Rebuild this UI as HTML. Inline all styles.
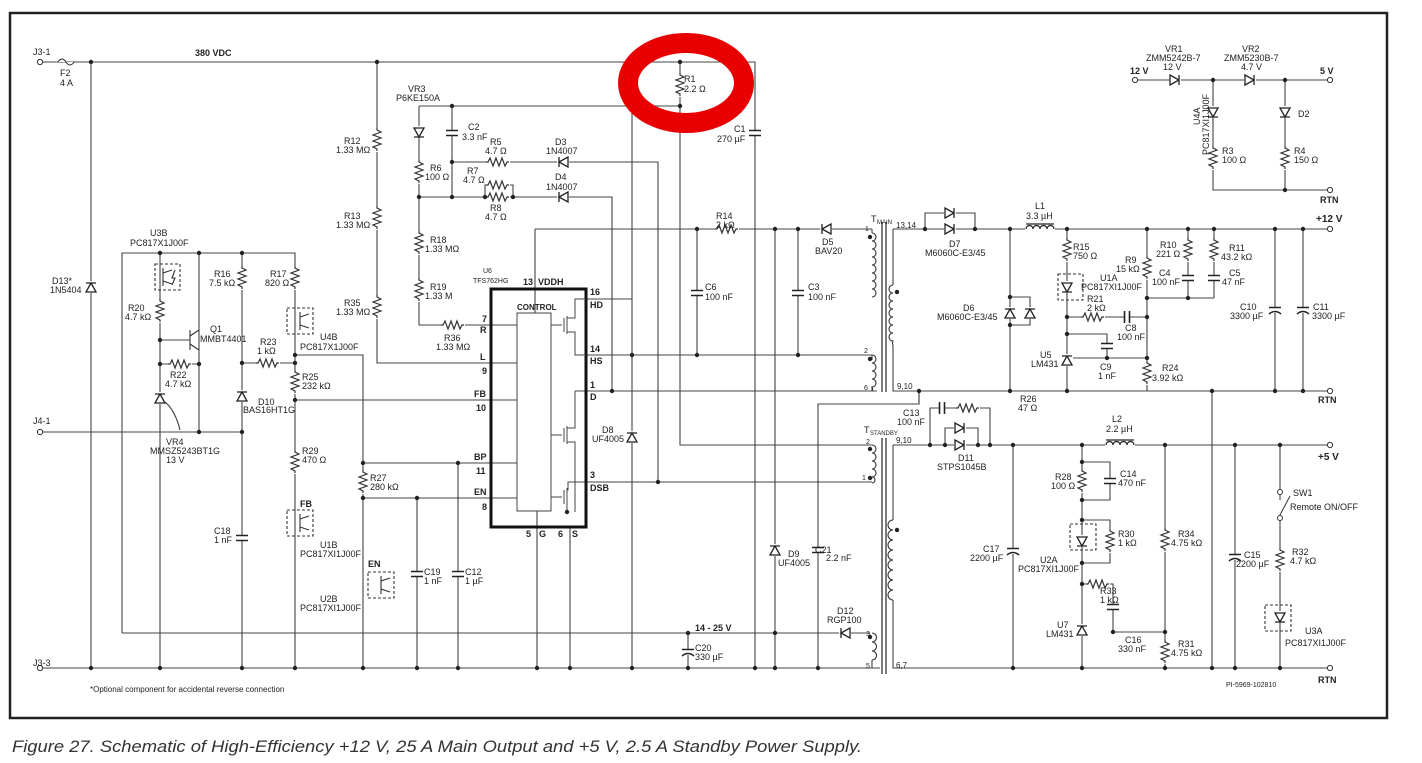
<!DOCTYPE html>
<html><head><meta charset="utf-8"><style>
html,body{margin:0;padding:0;background:#fff;width:1422px;height:763px;overflow:hidden}
svg{display:block}
text{font-family:"Liberation Sans",sans-serif;font-size:9px;fill:#222}
.b{font-weight:bold}
</style></head><body>
<svg width="1422" height="763" viewBox="0 0 1422 763" xmlns="http://www.w3.org/2000/svg">
<defs>
<g id="rv"><rect x="-5" y="-12" width="10" height="24" fill="#fff"/><path d="M0,-12 v2 l4,2 -8,3 8,3 -8,3 8,3 -8,3 4,2 v2" fill="none" stroke="#333" stroke-width="1.2"/></g>
<g id="rh"><rect x="-12" y="-5" width="24" height="10" fill="#fff"/><path d="M-12,0 h2 l2,-4 3,8 3,-8 3,8 3,-8 3,8 2,-4 h2" fill="none" stroke="#333" stroke-width="1.2"/></g>
<g id="cv"><rect x="-7" y="-3" width="14" height="6" fill="#fff"/><path d="M-6,-2.5h12M-6,2.5h12" stroke="#222" stroke-width="1.6"/></g>
<g id="ch"><rect x="-3" y="-7" width="6" height="14" fill="#fff"/><path d="M-2.5,-6v12M2.5,-6v12" stroke="#222" stroke-width="1.6"/></g>
<g id="cpv"><rect x="-7" y="-3" width="14" height="6" fill="#fff"/><path d="M-6,-2.5h12M-6,4 q6,-5 12,0" fill="none" stroke="#222" stroke-width="1.5"/></g>
<g id="du"><rect x="-6" y="-6" width="12" height="12" fill="#fff"/><path d="M-5,5 H5 L0,-4 Z M-5,-4 H5" fill="none" stroke="#222" stroke-width="1.3"/></g>
<g id="dl"><rect x="-6" y="-6" width="12" height="12" fill="#fff"/><path d="M5,-5 V5 L-4,0 Z M-4,-5 V5" fill="none" stroke="#222" stroke-width="1.3"/></g>
<g id="dr"><rect x="-6" y="-6" width="12" height="12" fill="#fff"/><path d="M-5,-5 V5 L4,0 Z M4,-5 V5" fill="none" stroke="#222" stroke-width="1.3"/></g>
<g id="dd"><rect x="-6" y="-6" width="12" height="12" fill="#fff"/><path d="M-5,-4 H5 L0,5 Z M-5,5 H5" fill="none" stroke="#222" stroke-width="1.3"/></g>
<g id="lh"><rect x="-15" y="-5" width="30" height="6" fill="#fff"/><path d="M-14,0 a3.5,3.5 0 0 1 7,0 a3.5,3.5 0 0 1 7,0 a3.5,3.5 0 0 1 7,0 a3.5,3.5 0 0 1 7,0 M-14,-5 h28" fill="none" stroke="#222" stroke-width="1.2"/></g>
<circle id="dt" r="2.2" fill="#222"/>
<circle id="tm" r="2.6" fill="#fff" stroke="#333"/>
</defs>

<rect x="10" y="13" width="1377" height="705" fill="none" stroke="#222" stroke-width="2.5"/>

<g stroke="#444" stroke-width="1.1" fill="none">
<path d="M38,62 H755 V668"/>
<path d="M91,62 V668"/>
<path d="M38,668 H880"/>
<path d="M377,62 V363 H490"/>
<path d="M680,62 V445 H872"/>
<path d="M419,106 H680"/>
<path d="M419,106 V325 H490"/>
<path d="M452,106 V197"/>
<path d="M452,162 H658 V482"/>
<path d="M419,197 H612 V391"/>
<path d="M485,197 V185 H513 V197"/>
<path d="M632,106 V299 H586"/>
<path d="M632,299 V668"/>
<path d="M535,229 V313"/>
<path d="M535,229 H872"/>
<path d="M697,229 V355"/>
<path d="M798,229 V355"/>
<path d="M775,229 V668"/>
<path d="M575,355 H872"/>
<path d="M575,391 H877"/>
<path d="M575,482 H872"/>
<path d="M818,668 V404 H919 V391"/>
<path d="M122,633 H870"/>
<path d="M688,633 V668"/>
<path d="M490,325 H517 M490,363 H517 M490,400 H517 M490,463 H517 M490,498 H517"/>
<path d="M537,511 V668 M570,527 V668"/>
<path d="M122,633 V253 H295 V668"/>
<path d="M160,253 V668"/>
<path d="M199,253 V432"/>
<path d="M242,253 V668"/>
<path d="M160,340 H190"/>
<path d="M160,364 H199"/>
<path d="M242,363 H295"/>
<path d="M295,355 H363 V668"/>
<path d="M295,400 H490"/>
<path d="M363,463 H490"/>
<path d="M363,498 H490"/>
<path d="M417,498 V668 M458,463 V668"/>
<path d="M38,432 H242"/>
<path d="M872,229 V233 M872,355 V360 M872,391 V387"/>
<path d="M882,222 V392 M886,222 V392" stroke="#333" stroke-width="1.3"/>
<path d="M893,229 V285 M893,345 V391 H1330"/>
<path d="M893,229 H1330"/>
<path d="M882,438 V674 M886,438 V674" stroke="#333" stroke-width="1.3"/>
<path d="M893,445 H1330"/>
<path d="M893,445 V520 M893,600 V668 H1330"/>
<path d="M872,668 V660"/>
<path d="M925,229 V213 H975 V229"/>
<path d="M1010,229 V391 M1010,297 H1030 V325 H1010"/>
<path d="M1067,229 V391"/>
<path d="M1147,229 V391"/>
<path d="M1188,229 V298 M1214,229 V298 M1147,298 H1214"/>
<path d="M1067,317 H1147"/>
<path d="M1067,334 H1107 V358 M1067,358 H1147"/>
<path d="M1275,229 V391 M1303,229 V391"/>
<path d="M1212,391 V668"/>
<path d="M919,391 V404"/>
<path d="M930,445 V408 H990 V445"/>
<path d="M945,445 V428 H978 V445"/>
<path d="M1013,445 V668"/>
<path d="M1082,445 V668"/>
<path d="M1082,462 H1110 V500 H1082"/>
<path d="M1082,520 H1110 V563 H1082"/>
<path d="M1082,584 H1113 V632 H1165"/>
<path d="M1165,445 V668"/>
<path d="M1235,445 V668"/>
<path d="M1280,445 V500 M1280,520 V668"/>
<path d="M1137,80 H1330"/>
<path d="M1213,80 V190 H1330 M1285,80 V190"/>
</g>

<rect x="491" y="289" width="95" height="238" fill="none" stroke="#111" stroke-width="3"/>
<rect x="517" y="313" width="34" height="198" fill="#fff" stroke="#444" stroke-width="1"/>
<g stroke="#444" stroke-width="1" fill="none">
<path d="M551,325 H562 M564,318 V332 M567,316 V334 M567,318 H575 V299 H586 M567,332 H575 V355 H586"/>
<path d="M551,435 H562 M564,428 V442 M567,426 V444 M567,428 H575 V391 M567,442 H575 V512"/>
<path d="M551,497 H562 M564,490 V504 M567,488 V506 M567,490 H568 V482 H575 M567,504 H567 V512"/>
</g>
<use href="#dt" x="567" y="512"/>

<path d="M58,62 q4,-6 8,0 q4,6 8,0" fill="#fff" stroke="#222"/>
<use href="#du" x="91" y="287"/>
<use href="#rv" x="377" y="140"/><use href="#rv" x="377" y="218"/><use href="#rv" x="377" y="307"/>
<use href="#rv" x="680" y="85"/>
<use href="#cv" x="755" y="133"/>
<use href="#dd" x="419" y="132"/>
<use href="#cv" x="452" y="133"/>
<use href="#rh" x="498" y="162"/>
<use href="#dl" x="563" y="162"/>
<use href="#rv" x="419" y="172"/>
<use href="#rh" x="498" y="185"/><use href="#rh" x="498" y="197"/>
<use href="#dl" x="563" y="197"/>
<use href="#rv" x="419" y="243"/><use href="#rv" x="419" y="290"/>
<use href="#rh" x="453" y="325"/>
<use href="#rh" x="727" y="229"/>
<use href="#dl" x="826" y="229"/>
<use href="#cv" x="697" y="293"/><use href="#cv" x="798" y="293"/>
<use href="#du" x="632" y="437"/>
<use href="#du" x="775" y="550"/>
<use href="#cv" x="818" y="550"/>
<use href="#dl" x="845" y="633"/>
<use href="#cpv" x="688" y="652"/>
<use href="#rv" x="160" y="311"/>
<use href="#rh" x="180" y="364"/>
<use href="#du" x="160" y="398"/>
<use href="#rv" x="242" y="278"/>
<use href="#rv" x="295" y="278"/>
<use href="#rh" x="268" y="363"/>
<use href="#rv" x="295" y="382"/>
<use href="#du" x="242" y="396"/>
<use href="#rv" x="295" y="462"/>
<use href="#cv" x="242" y="538"/>
<use href="#rv" x="363" y="482"/>
<use href="#cv" x="417" y="574"/><use href="#cv" x="458" y="574"/>
<g stroke="#333" stroke-width="1.1" fill="none">
<path d="M190,330 V350 M190,336 L199,330 M190,344 L199,350"/>
<path d="M180,430 Q175,410 165,402"/>
<path d="M155,264 h25 v26 h-25 z M287,308 h26 v26 h-26 z M287,510 h26 v26 h-26 z M368,572 h26 v26 h-26 z" stroke-dasharray="3,2"/>
<path d="M163,268 V286 M163,273 L172,270 M163,281 L172,284 M175,270 l-3,8 3,0 -3,7"/>
<path d="M300,312 V330 M300,317 L309,314 M300,325 L309,328"/>
<path d="M300,514 V532 M300,519 L309,516 M300,527 L309,530"/>
<path d="M381,576 V594 M381,581 L390,578 M381,589 L390,592"/>
<path d="M1058,274 h25 v26 h-25 z M1070,524 h26 v26 h-26 z M1265,605 h26 v26 h-26 z" stroke-dasharray="3,2"/>
</g>
<g fill="none" stroke="#333" stroke-width="1.1">
<path d="M872,233 a4,4 0 0 1 0,8 a4,4 0 0 1 0,8 a4,4 0 0 1 0,8 a4,4 0 0 1 0,8 a4,4 0 0 1 0,8 a4,4 0 0 1 0,8 a4,4 0 0 1 0,8 a4,4 0 0 1 0,8"/>
<path d="M872,355 a4,4 0 0 1 0,8 a4,4 0 0 1 0,8 a4,4 0 0 1 0,8 a4,4 0 0 1 0,8 a4,4 0 0 1 0,4"/>
<path d="M893,285 a4,4 0 0 0 0,8 a4,4 0 0 0 0,8 a4,4 0 0 0 0,8 a4,4 0 0 0 0,8 a4,4 0 0 0 0,8 a4,4 0 0 0 0,8 a4,4 0 0 0 0,8 a4,4 0 0 0 0,4"/>
<path d="M872,445 a4,4 0 0 1 0,8 a4,4 0 0 1 0,8 a4,4 0 0 1 0,8 a4,4 0 0 1 0,8 a3,3 0 0 1 0,6"/>
<path d="M893,520 a4,4 0 0 0 0,10 a4,4 0 0 0 0,10 a4,4 0 0 0 0,10 a4,4 0 0 0 0,10 a4,4 0 0 0 0,10 a4,4 0 0 0 0,10 a4,4 0 0 0 0,10 a4,4 0 0 0 0,10"/>
<path d="M872,633 a4,4 0 0 1 0,9 a4,4 0 0 1 0,9 a4,4 0 0 1 0,9"/>
</g>
<use href="#dr" x="950" y="213"/><use href="#dr" x="950" y="229"/>
<use href="#lh" x="1040" y="229"/>
<use href="#du" x="1010" y="313"/><use href="#du" x="1030" y="313"/>
<use href="#rv" x="1067" y="250"/>
<use href="#dd" x="1067" y="287"/>
<use href="#rh" x="1093" y="317"/>
<use href="#ch" x="1127" y="317"/>
<use href="#cv" x="1107" y="346"/>
<use href="#du" x="1067" y="360"/>
<use href="#rv" x="1147" y="268"/><use href="#rv" x="1188" y="250"/><use href="#rv" x="1214" y="250"/>
<use href="#cv" x="1188" y="278"/><use href="#cv" x="1214" y="278"/>
<use href="#rv" x="1147" y="373"/>
<use href="#cpv" x="1275" y="310"/><use href="#cpv" x="1303" y="310"/>
<use href="#ch" x="942" y="408"/><use href="#rh" x="968" y="408"/>
<use href="#dr" x="960" y="428"/><use href="#dr" x="960" y="445"/>
<use href="#lh" x="1120" y="445"/>
<use href="#rv" x="1082" y="481"/><use href="#cv" x="1110" y="481"/>
<use href="#dd" x="1082" y="541"/><use href="#rv" x="1110" y="541"/>
<use href="#rh" x="1098" y="584"/><use href="#cv" x="1113" y="607"/>
<use href="#du" x="1082" y="630"/>
<use href="#rv" x="1165" y="540"/><use href="#rv" x="1165" y="652"/>
<use href="#cpv" x="1013" y="551"/><use href="#cpv" x="1235" y="557"/>
<use href="#rv" x="1280" y="560"/><use href="#dd" x="1280" y="617"/>
<rect x="1276" y="494" width="8" height="32" fill="#fff"/>
<path d="M1280,494 V500 M1280,520 V526 M1280,515 L1290,496" stroke="#333" fill="none"/>
<circle cx="1280" cy="492" r="2.5" fill="#fff" stroke="#333"/><circle cx="1280" cy="518" r="2.5" fill="#fff" stroke="#333"/>
<use href="#dr" x="1175" y="80"/><use href="#dr" x="1250" y="80"/>
<use href="#dd" x="1213" y="112"/><use href="#dd" x="1285" y="112"/>
<use href="#rv" x="1213" y="158"/><use href="#rv" x="1285" y="158"/>

<g>
<use href="#dt" x="91" y="62"/><use href="#dt" x="377" y="62"/><use href="#dt" x="680" y="62"/><use href="#dt" x="680" y="106"/><use href="#dt" x="452" y="106"/>
<use href="#dt" x="452" y="162"/><use href="#dt" x="419" y="197"/><use href="#dt" x="452" y="197"/><use href="#dt" x="485" y="197"/><use href="#dt" x="513" y="197"/>
<use href="#dt" x="632" y="355"/><use href="#dt" x="612" y="391"/><use href="#dt" x="658" y="482"/><use href="#dt" x="697" y="229"/><use href="#dt" x="775" y="229"/><use href="#dt" x="798" y="229"/>
<use href="#dt" x="697" y="355"/><use href="#dt" x="798" y="355"/><use href="#dt" x="775" y="633"/><use href="#dt" x="688" y="633"/><use href="#dt" x="688" y="668"/>
<use href="#dt" x="91" y="668"/><use href="#dt" x="160" y="668"/><use href="#dt" x="242" y="668"/><use href="#dt" x="295" y="668"/><use href="#dt" x="363" y="668"/><use href="#dt" x="417" y="668"/><use href="#dt" x="458" y="668"/><use href="#dt" x="537" y="668"/><use href="#dt" x="570" y="668"/><use href="#dt" x="632" y="668"/><use href="#dt" x="755" y="668"/><use href="#dt" x="775" y="668"/><use href="#dt" x="818" y="668"/>
<use href="#dt" x="160" y="253"/><use href="#dt" x="199" y="253"/><use href="#dt" x="242" y="253"/><use href="#dt" x="160" y="340"/><use href="#dt" x="160" y="364"/><use href="#dt" x="199" y="364"/><use href="#dt" x="242" y="363"/><use href="#dt" x="295" y="363"/><use href="#dt" x="295" y="355"/><use href="#dt" x="295" y="400"/><use href="#dt" x="199" y="432"/><use href="#dt" x="242" y="432"/>
<use href="#dt" x="363" y="463"/><use href="#dt" x="363" y="498"/><use href="#dt" x="417" y="498"/><use href="#dt" x="458" y="463"/>
<use href="#dt" x="925" y="229"/><use href="#dt" x="975" y="229"/><use href="#dt" x="1010" y="229"/><use href="#dt" x="1067" y="229"/><use href="#dt" x="1147" y="229"/><use href="#dt" x="1188" y="229"/><use href="#dt" x="1214" y="229"/><use href="#dt" x="1275" y="229"/><use href="#dt" x="1303" y="229"/>
<use href="#dt" x="1010" y="297"/><use href="#dt" x="1010" y="325"/><use href="#dt" x="1147" y="298"/><use href="#dt" x="1188" y="298"/><use href="#dt" x="1067" y="317"/><use href="#dt" x="1147" y="317"/><use href="#dt" x="1067" y="334"/><use href="#dt" x="1107" y="358"/><use href="#dt" x="1147" y="358"/>
<use href="#dt" x="919" y="391"/><use href="#dt" x="1010" y="391"/><use href="#dt" x="1067" y="391"/><use href="#dt" x="1212" y="391"/><use href="#dt" x="1275" y="391"/><use href="#dt" x="1303" y="391"/>
<use href="#dt" x="930" y="445"/><use href="#dt" x="945" y="445"/><use href="#dt" x="978" y="445"/><use href="#dt" x="990" y="445"/><use href="#dt" x="1013" y="445"/><use href="#dt" x="1082" y="445"/><use href="#dt" x="1165" y="445"/><use href="#dt" x="1235" y="445"/><use href="#dt" x="1280" y="445"/>
<use href="#dt" x="1082" y="462"/><use href="#dt" x="1082" y="500"/><use href="#dt" x="1082" y="520"/><use href="#dt" x="1082" y="563"/><use href="#dt" x="1082" y="584"/><use href="#dt" x="1113" y="632"/><use href="#dt" x="1165" y="632"/>
<use href="#dt" x="1013" y="668"/><use href="#dt" x="1082" y="668"/><use href="#dt" x="1165" y="668"/><use href="#dt" x="1212" y="668"/><use href="#dt" x="1235" y="668"/><use href="#dt" x="1280" y="668"/>
<use href="#dt" x="1213" y="80"/><use href="#dt" x="1285" y="80"/><use href="#dt" x="1285" y="190"/>
<use href="#dt" x="870" y="237"/><use href="#dt" x="870" y="359"/><use href="#dt" x="897" y="292"/><use href="#dt" x="870" y="449"/><use href="#dt" x="870" y="478"/><use href="#dt" x="897" y="530"/><use href="#dt" x="870" y="637"/>
</g>
<use href="#tm" x="40" y="62"/><use href="#tm" x="40" y="432"/><use href="#tm" x="40" y="668"/>
<use href="#tm" x="1330" y="229"/><use href="#tm" x="1330" y="391"/><use href="#tm" x="1330" y="445"/><use href="#tm" x="1330" y="668"/><use href="#tm" x="1330" y="190"/><use href="#tm" x="1330" y="80"/><use href="#tm" x="1135" y="80"/>

<ellipse cx="686" cy="83" rx="58" ry="40" fill="none" stroke="#e80000" stroke-width="20"/>

<g>
<text x="33" y="55">J3-1</text><text x="60" y="76">F2</text><text x="60" y="86">4 A</text>
<text x="195" y="56" class="b">380 VDC</text>
<text x="52" y="284">D13*</text><text x="50" y="293">1N5404</text>
<text x="33" y="424">J4-1</text><text x="33" y="666">J3-3</text>
<text x="90" y="692" style="font-size:8px">*Optional component for accidental reverse connection</text>
<text x="344" y="144">R12</text><text x="336" y="153">1.33 MΩ</text>
<text x="344" y="219">R13</text><text x="336" y="228">1.33 MΩ</text>
<text x="344" y="306">R35</text><text x="336" y="315">1.33 MΩ</text>
<text x="408" y="92">VR3</text><text x="396" y="101">P6KE150A</text>
<text x="468" y="130">C2</text><text x="462" y="140">3.3 nF</text>
<text x="490" y="145">R5</text><text x="485" y="154">4.7 Ω</text>
<text x="555" y="145">D3</text><text x="546" y="154">1N4007</text>
<text x="430" y="171">R6</text><text x="425" y="180">100 Ω</text>
<text x="467" y="174">R7</text><text x="463" y="183">4.7 Ω</text>
<text x="555" y="180">D4</text><text x="546" y="190">1N4007</text>
<text x="490" y="211">R8</text><text x="485" y="220">4.7 Ω</text>
<text x="430" y="243">R18</text><text x="425" y="252">1.33 MΩ</text>
<text x="430" y="290">R19</text><text x="425" y="299">1.33 M</text>
<text x="444" y="341">R36</text><text x="436" y="350">1.33 MΩ</text>
<text x="483" y="273" style="font-size:7px">U6</text><text x="473" y="283" style="font-size:7px">TFS762HG</text>
<text x="523" y="285" class="b">13</text><text x="538" y="285" class="b">VDDH</text>
<text x="517" y="310" class="b" style="font-size:8px">CONTROL</text>
<text x="482" y="322" class="b">7</text><text x="480" y="333" class="b">R</text>
<text x="480" y="360" class="b">L</text><text x="482" y="374" class="b">9</text>
<text x="474" y="397" class="b">FB</text><text x="476" y="411" class="b">10</text>
<text x="474" y="460" class="b">BP</text><text x="476" y="474" class="b">11</text>
<text x="474" y="495" class="b">EN</text><text x="482" y="510" class="b">8</text>
<text x="590" y="295" class="b">16</text><text x="590" y="308" class="b">HD</text>
<text x="590" y="352" class="b">14</text><text x="590" y="364" class="b">HS</text>
<text x="590" y="388" class="b">1</text><text x="590" y="400" class="b">D</text>
<text x="590" y="478" class="b">3</text><text x="590" y="491" class="b">DSB</text>
<text x="526" y="537" class="b">5</text><text x="539" y="537" class="b">G</text><text x="558" y="537" class="b">6</text><text x="572" y="537" class="b">S</text>
<text x="602" y="433">D8</text><text x="592" y="442">UF4005</text>
<text x="684" y="82">R1</text><text x="684" y="92">2.2 Ω</text>
<text x="734" y="132">C1</text><text x="717" y="142">270 µF</text>
<text x="716" y="219">R14</text><text x="716" y="228">2 kΩ</text>
<text x="705" y="290">C6</text><text x="705" y="300">100 nF</text>
<text x="808" y="290">C3</text><text x="808" y="300">100 nF</text>
<text x="822" y="245">D5</text><text x="815" y="254">BAV20</text>
<text x="871" y="222">T</text><text x="877" y="224" style="font-size:6px">MAIN</text><text x="896" y="228" style="font-size:8px">13,14</text>
<text x="865" y="231" style="font-size:7px">1</text><text x="864" y="353" style="font-size:7px">2</text><text x="864" y="390" style="font-size:7px">6</text>
<text x="897" y="389" style="font-size:8px">9,10</text>
<text x="864" y="433">T</text><text x="870" y="435" style="font-size:6px">STANDBY</text>
<text x="866" y="444" style="font-size:7px">2</text><text x="896" y="443" style="font-size:8px">9,10</text><text x="862" y="480" style="font-size:7px">1</text>
<text x="866" y="636" style="font-size:7px">3</text><text x="866" y="668" style="font-size:7px">5</text><text x="896" y="668" style="font-size:8px">6,7</text>
<text x="815" y="553">C21</text><text x="826" y="561">2.2 nF</text>
<text x="788" y="557">D9</text><text x="778" y="566">UF4005</text>
<text x="837" y="614">D12</text><text x="827" y="623">RGP100</text>
<text x="695" y="631" class="b">14 - 25 V</text>
<text x="695" y="651">C20</text><text x="695" y="660">330 µF</text>
<text x="150" y="236">U3B</text><text x="130" y="246">PC817X1J00F</text>
<text x="128" y="311">R20</text><text x="125" y="320">4.7 kΩ</text>
<text x="210" y="332">Q1</text><text x="200" y="342">MMBT4401</text>
<text x="170" y="378">R22</text><text x="165" y="387">4.7 kΩ</text>
<text x="166" y="445">VR4</text><text x="150" y="454">MMSZ5243BT1G</text><text x="166" y="463">13 V</text>
<text x="214" y="277">R16</text><text x="209" y="286">7.5 kΩ</text>
<text x="270" y="277">R17</text><text x="265" y="286">820 Ω</text>
<text x="320" y="340">U4B</text><text x="300" y="350">PC817X1J00F</text>
<text x="260" y="345">R23</text><text x="257" y="354">1 kΩ</text>
<text x="302" y="380">R25</text><text x="302" y="389">232 kΩ</text>
<text x="258" y="405">D10</text><text x="243" y="413">BAS16HT1G</text>
<text x="302" y="454">R29</text><text x="302" y="463">470 Ω</text>
<text x="300" y="507" class="b">FB</text>
<text x="320" y="548">U1B</text><text x="300" y="557">PC817XI1J00F</text>
<text x="214" y="534">C18</text><text x="214" y="543">1 nF</text>
<text x="370" y="481">R27</text><text x="370" y="490">280 kΩ</text>
<text x="368" y="567" class="b">EN</text>
<text x="320" y="602">U2B</text><text x="300" y="611">PC817XI1J00F</text>
<text x="424" y="575">C19</text><text x="424" y="584">1 nF</text>
<text x="465" y="575">C12</text><text x="465" y="584">1 µF</text>
<text x="1165" y="52">VR1</text><text x="1146" y="61">ZMM5242B-7</text><text x="1163" y="70">12 V</text>
<text x="1242" y="52">VR2</text><text x="1224" y="61">ZMM5230B-7</text><text x="1241" y="70">4.7 V</text>
<text x="1130" y="74" class="b">12 V</text><text x="1320" y="74" class="b">5 V</text>
<text transform="translate(1209,155) rotate(-90)">PC817XI1J00F</text><text transform="translate(1200,125) rotate(-90)">U4A</text>
<text x="1298" y="117">D2</text>
<text x="1222" y="154">R3</text><text x="1222" y="163">100 Ω</text>
<text x="1294" y="154">R4</text><text x="1294" y="163">150 Ω</text>
<text x="1320" y="203" class="b">RTN</text>
<text x="1316" y="222" class="b" style="font-size:10px">+12 V</text>
<text x="1035" y="209">L1</text><text x="1026" y="219">3.3 µH</text>
<text x="949" y="247">D7</text><text x="925" y="256">M6060C-E3/45</text>
<text x="963" y="311">D6</text><text x="937" y="320">M6060C-E3/45</text>
<text x="1073" y="250">R15</text><text x="1073" y="259">750 Ω</text>
<text x="1100" y="281">U1A</text><text x="1081" y="290">PC817XI1J00F</text>
<text x="1125" y="263">R9</text><text x="1116" y="272">15 kΩ</text>
<text x="1160" y="248">R10</text><text x="1156" y="257">221 Ω</text>
<text x="1229" y="251">R11</text><text x="1221" y="260">43.2 kΩ</text>
<text x="1159" y="276">C4</text><text x="1152" y="285">100 nF</text>
<text x="1229" y="276">C5</text><text x="1222" y="285">47 nF</text>
<text x="1087" y="302">R21</text><text x="1087" y="311">2 kΩ</text>
<text x="1125" y="331">C8</text><text x="1117" y="340">100 nF</text>
<text x="1040" y="358">U5</text><text x="1031" y="367">LM431</text>
<text x="1100" y="370">C9</text><text x="1098" y="379">1 nF</text>
<text x="1162" y="371">R24</text><text x="1152" y="381">3.92 kΩ</text>
<text x="1240" y="310">C10</text><text x="1230" y="319">3300 µF</text>
<text x="1313" y="310">C11</text><text x="1312" y="319">3300 µF</text>
<text x="1318" y="403" class="b">RTN</text>
<text x="1020" y="402">R26</text><text x="1018" y="411">47 Ω</text>
<text x="903" y="416">C13</text><text x="897" y="425">100 nF</text>
<text x="958" y="461">D11</text><text x="937" y="470">STPS1045B</text>
<text x="1112" y="422">L2</text><text x="1106" y="432">2.2 µH</text>
<text x="1318" y="460" class="b" style="font-size:10px">+5 V</text>
<text x="1055" y="480">R28</text><text x="1051" y="489">100 Ω</text>
<text x="1120" y="477">C14</text><text x="1118" y="486">470 nF</text>
<text x="1118" y="537">R30</text><text x="1118" y="546">1 kΩ</text>
<text x="1040" y="563">U2A</text><text x="1018" y="572">PC817XI1J00F</text>
<text x="983" y="552">C17</text><text x="970" y="561">2200 µF</text>
<text x="1100" y="594">R33</text><text x="1100" y="603">1 kΩ</text>
<text x="1057" y="628">U7</text><text x="1046" y="637">LM431</text>
<text x="1125" y="643">C16</text><text x="1118" y="652">330 nF</text>
<text x="1178" y="537">R34</text><text x="1171" y="546">4.75 kΩ</text>
<text x="1178" y="647">R31</text><text x="1171" y="656">4.75 kΩ</text>
<text x="1244" y="558">C15</text><text x="1236" y="567">2200 µF</text>
<text x="1293" y="496">SW1</text><text x="1290" y="510">Remote ON/OFF</text>
<text x="1292" y="555">R32</text><text x="1290" y="564">4.7 kΩ</text>
<text x="1305" y="634">U3A</text><text x="1285" y="646">PC817XI1J00F</text>
<text x="1226" y="687" style="font-size:7px">PI-5969-102810</text>
<text x="1318" y="683" class="b">RTN</text>
</g>
<text x="12" y="752" textLength="850" lengthAdjust="spacingAndGlyphs" style="font-size:17px;font-style:italic;fill:#333">Figure 27.   Schematic of High-Efficiency +12 V, 25 A Main Output and +5 V, 2.5 A Standby Power Supply.</text>
</svg>
</body></html>
